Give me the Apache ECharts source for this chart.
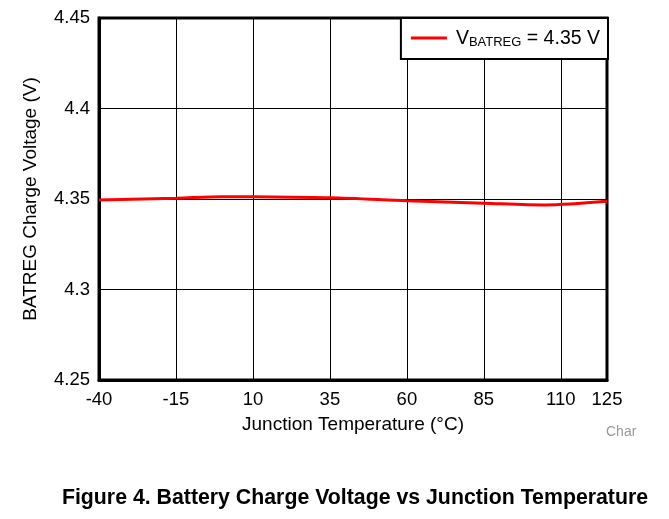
<!DOCTYPE html>
<html>
<head>
<meta charset="utf-8">
<script src="https://cdn.jsdelivr.net/npm/echarts@6/dist/echarts.min.js"></script>
<style>
  html, body { margin: 0; padding: 0; background: #fff; }
  #chart { width: 669px; height: 519px; }
</style>
</head>
<body>
<div id="chart"></div>
<script>
// junction temperature (°C) and charge voltage (V)
const temps = [-40, -15, 0, 10, 35, 60, 85, 105, 125]
const voltages = [4.3494, 4.3504, 4.3513, 4.3512, 4.3507, 4.3491, 4.3477, 4.3467, 4.3487]
const xMin = -40
const xMax = 125
const yTicks = [4.25, 4.3, 4.35, 4.4, 4.45]

// axis is shifted so ticks start at a multiple of the interval
const offset = -xMin
const seriesData = temps.map((t, i) => [t + offset, voltages[i]])

const chart = echarts.init(document.getElementById('chart'))
const font = 'Arial, "Liberation Sans", sans-serif'

const option = {
  animation: false,
  backgroundColor: '#fff',
  textStyle: { fontFamily: font },
  grid: {
    left: 99, right: 62, top: 18, bottom: 139,
    show: true, borderColor: '#000', borderWidth: 3
  },
  legend: {
    right: 61, top: 18,
    padding: [11, 8, 10, 10],
    backgroundColor: '#fff',
    borderColor: '#000',
    borderWidth: 2,
    itemWidth: 36, itemHeight: 3,
    icon: 'rect',
    data: ['VBATREG'],
    formatter: () => '{v0|V}{s|BATREG}{v| = 4.35 V}',
    textStyle: {
      rich: {
        v0: { fontSize: 19.5, color: '#000', fontFamily: font, verticalAlign: 'bottom', lineHeight: 22, padding: [0, 0, 0, 4] },
        v: { fontSize: 19.5, color: '#000', fontFamily: font, verticalAlign: 'bottom', lineHeight: 22 },
        s: { fontSize: 13, color: '#000', fontFamily: font, verticalAlign: 'bottom', lineHeight: 22 }
      }
    }
  },
  xAxis: {
    type: 'value',
    min: xMin + offset,
    max: xMax + offset,
    interval: 25,
    name: 'Junction Temperature (°C)',
    nameLocation: 'middle',
    nameGap: 35,
    nameTextStyle: { fontSize: 19, color: '#000' },
    axisLine: { lineStyle: { color: '#000', width: 3 } },
    axisTick: { show: false },
    axisLabel: {
      fontSize: 18.5, color: '#000', margin: 10,
      formatter: v => String(Math.round(v - offset))
    },
    splitLine: { show: true, lineStyle: { color: '#000', width: 1 } }
  },
  yAxis: {
    type: 'value',
    min: yTicks[0],
    max: yTicks[yTicks.length - 1],
    interval: 0.05,
    name: 'BATREG Charge Voltage (V)',
    nameLocation: 'middle',
    nameGap: 59,
    nameTextStyle: { fontSize: 19, color: '#000' },
    axisLine: { show: true, lineStyle: { color: '#000', width: 3 } },
    axisTick: { show: false },
    axisLabel: {
      fontSize: 18.5, color: '#000', margin: 9,
      formatter: v => String(+v.toFixed(2))
    },
    splitLine: { show: true, lineStyle: { color: '#000', width: 1 } }
  },
  series: [{
    name: 'VBATREG',
    type: 'line',
    data: seriesData,
    smooth: 0.3,
    showSymbol: false,
    lineStyle: { color: '#ff0000', width: 3 },
    itemStyle: { color: '#ff0000' }
  }],
  graphic: [
    {
      type: 'text', left: 606, top: 425,
      style: { text: 'Char', fontSize: 14, fill: '#999', fontFamily: font }
    },
    {
      type: 'text', x: 355, y: 498,
      style: {
        text: 'Figure 4. Battery Charge Voltage vs Junction Temperature',
        fontSize: 21.3, fontWeight: 'bold', fill: '#000', fontFamily: font,
        textAlign: 'center', textVerticalAlign: 'middle'
      }
    }
  ]
}
chart.setOption(option)
</script>
</body>
</html>
